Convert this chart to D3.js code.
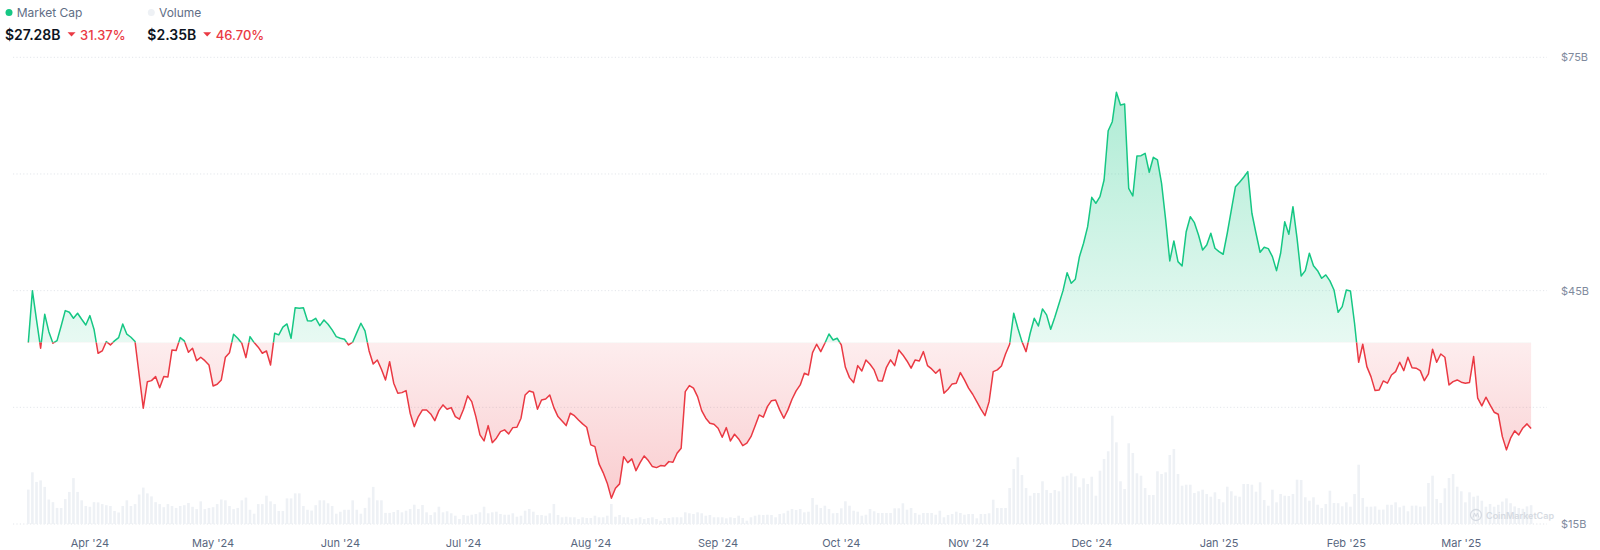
<!DOCTYPE html>
<html>
<head>
<meta charset="utf-8">
<script src="https://cdn.jsdelivr.net/npm/d3@7/dist/d3.min.js"></script>
<style>
  html, body { margin: 0; padding: 0; background: #ffffff; }
  svg { display: block; font-family: Inter, "Noto Sans", sans-serif; }
</style>
</head>
<body>
<svg id="chart" width="1600" height="550"></svg>
<script>
// ---- data (daily, starting 2024-03-17) ----
const startDay = "2024-03-17";
// market cap, billions USD
const marketCap = [
38.32,45.00,41.23,37.60,41.97,39.73,38.24,38.57,40.46,42.43,42.22,41.45,42.10,41.32,40.59,41.79,40.04,36.95,37.25,38.45,
38.02,38.54,38.96,40.72,39.40,39.01,38.45,34.16,29.89,33.30,33.43,33.95,32.53,33.95,33.90,37.38,37.30,38.96,38.54,37.08,
37.60,36.00,36.44,36.00,35.45,32.75,32.97,33.52,36.44,37.03,39.40,38.88,38.24,36.39,39.09,38.32,37.73,36.95,37.25,35.45,
39.52,39.31,40.30,40.72,38.88,42.81,42.74,42.81,41.14,41.11,41.45,40.50,41.23,40.68,39.95,39.09,38.88,38.75,38.02,38.37,
39.60,40.81,39.82,37.25,35.58,36.09,34.90,33.52,35.87,33.10,31.81,31.89,32.15,29.24,27.52,28.81,29.67,29.65,29.15,28.29,
29.58,30.31,29.76,29.96,28.81,28.47,29.76,31.47,30.73,28.81,26.45,25.68,27.65,25.46,26.03,26.88,27.10,26.58,27.39,27.44,
28.60,31.59,32.11,31.94,29.76,30.95,31.08,31.59,29.96,28.81,28.25,27.65,29.24,28.93,28.38,27.87,27.44,25.17,24.95,22.73,
21.61,20.25,18.32,19.60,20.16,23.66,22.89,23.37,21.86,22.89,23.75,23.15,22.38,22.25,22.51,22.47,23.02,22.94,24.10,24.74,
32.02,32.79,32.46,31.38,29.58,28.60,27.96,27.83,27.31,26.16,27.39,25.68,26.54,25.94,25.08,25.39,26.23,27.61,29.02,28.73,
30.09,30.86,30.95,29.67,28.60,29.67,31.04,32.11,32.88,34.38,34.16,37.03,38.11,37.16,38.24,39.43,38.66,38.88,38.02,35.15,
33.82,33.18,35.36,34.68,36.09,35.54,34.81,33.43,33.39,35.15,36.10,35.36,37.38,36.74,35.96,35.03,36.09,35.96,37.16,35.36,
34.94,34.38,34.90,31.81,32.33,33.01,33.10,34.46,33.52,32.46,31.68,30.73,29.76,28.93,30.73,34.59,34.81,35.32,36.86,38.11,
42.10,40.17,38.45,37.16,39.52,41.45,40.46,42.65,41.88,40.04,41.58,43.29,45.00,47.31,45.95,46.47,49.37,51.09,53.23,57.00,
56.23,57.08,59.23,65.56,66.72,70.50,68.87,69.00,58.16,57.17,62.31,62.35,62.66,60.22,62.15,61.80,58.80,54.09,48.82,51.39,
48.73,48.17,52.58,54.51,53.74,52.16,50.23,50.87,52.38,50.45,50.01,49.68,52.38,55.37,58.37,58.93,59.58,60.30,54.95,52.38,
49.94,50.58,50.40,49.37,47.57,49.81,53.87,52.25,55.80,51.73,46.89,47.57,49.81,48.21,47.57,46.59,47.02,46.25,45.09,42.22,
42.94,45.09,44.96,40.81,35.80,38.11,35.23,33.95,32.15,32.24,33.39,33.10,34.16,34.59,35.80,34.72,36.44,35.10,35.03,34.72,
33.43,34.29,37.47,35.80,36.86,36.44,32.88,33.30,33.52,33.23,33.10,33.20,36.52,31.17,30.18,31.30,30.31,29.37,29.11,26.23,
24.53,26.03,26.97,26.45,27.35,27.87,27.29
];
// volume, billions USD
const volume = [
4.30,6.46,5.26,5.45,4.64,3.06,2.73,2.01,2.00,3.11,4.01,5.74,4.01,2.96,2.25,2.15,2.73,2.70,2.49,2.35,
2.25,1.63,1.44,2.25,2.96,2.25,2.49,3.69,4.55,3.83,3.45,2.73,2.49,2.10,2.49,2.25,2.01,2.25,2.35,2.63,
2.15,1.86,2.83,1.86,2.01,2.10,2.49,3.06,2.96,2.25,1.86,2.01,2.96,3.30,1.78,1.29,2.49,2.49,3.54,2.83,
2.49,1.63,1.63,3.20,3.20,3.83,3.83,2.25,1.78,1.68,2.35,2.96,2.96,2.59,2.25,1.29,1.53,1.78,1.78,2.96,
1.78,1.29,2.01,3.30,4.64,2.96,2.96,1.39,1.39,1.50,1.75,1.46,1.66,1.88,2.41,1.88,2.38,1.46,1.13,1.46,
2.16,1.46,1.59,1.34,1.04,0.63,1.13,1.04,1.16,1.25,1.46,2.16,1.34,1.46,1.54,1.25,1.16,1.16,1.34,0.91,
1.04,1.66,1.88,1.54,1.13,1.13,1.04,1.34,2.50,1.13,0.84,0.91,0.84,0.84,0.63,0.84,0.75,0.75,1.04,0.84,
0.84,1.04,2.50,0.91,1.13,0.84,0.84,0.63,0.71,0.84,0.63,0.75,0.84,0.63,0.41,0.75,0.75,0.84,0.84,0.84,
1.46,1.34,1.25,1.46,1.34,1.04,1.13,0.84,0.84,0.84,0.71,0.84,0.75,1.04,0.75,0.41,0.84,1.04,1.16,1.13,
1.16,1.13,0.84,1.25,1.34,1.66,1.88,1.75,1.88,1.46,1.54,3.25,2.41,2.00,2.29,1.88,1.34,1.38,1.96,2.84,
2.29,1.66,1.54,1.04,1.16,1.88,1.59,1.38,1.38,1.38,1.38,1.96,1.96,2.59,1.79,2.00,1.38,1.16,1.38,1.38,
1.38,1.16,1.66,0.84,1.13,1.25,1.54,1.38,1.16,1.25,1.25,0.71,1.25,1.25,1.34,3.04,2.00,2.00,2.00,4.50,
6.88,8.34,6.13,4.50,3.54,3.88,3.88,5.34,4.25,3.88,4.25,4.09,5.91,6.04,6.34,5.96,4.59,5.71,5.00,5.91,
3.54,6.66,8.13,9.09,13.54,10.21,5.34,4.38,10.09,8.88,6.34,6.04,4.50,3.63,3.63,6.59,6.25,6.46,8.63,9.38,
6.25,4.79,4.91,4.91,3.88,4.09,4.29,3.75,3.41,3.96,3.13,2.71,4.66,4.09,3.54,3.41,5.00,5.00,4.91,4.04,
5.21,3.00,2.29,4.29,2.71,3.75,3.54,3.50,3.75,5.54,5.50,3.34,2.91,3.34,2.41,2.00,2.50,4.16,2.63,2.60,
2.21,2.71,2.16,3.75,7.41,3.25,2.16,2.16,2.20,1.79,1.80,2.41,2.40,2.71,2.09,2.29,1.59,2.29,2.30,2.16,
2.20,5.13,6.04,3.13,2.63,4.46,5.75,6.25,4.66,4.09,2.71,3.96,3.41,3.54,2.91,2.16,2.50,2.16,2.40,2.80,
3.20,2.60,2.20,2.00,1.90,2.20,2.35
];
const yTicks = [15, 30, 45, 60, 75];
const yLabelTicks = [75, 45, 15];
const legendItems = [
  { name: "Market Cap", value: "$27.28B", change: "31.37%" },
  { name: "Volume", value: "$2.35B", change: "46.70%" }
];

// ---- setup ----
const GREEN = "#16c784", RED = "#ea3943";
const svg = d3.select("#chart");
const t0 = new Date(startDay + "T00:00:00Z");
const dates = marketCap.map((_, i) => d3.utcDay.offset(t0, i));
const rows = dates.map((d, i) => ({ date: d, cap: marketCap[i], vol: volume[i] }));

const x = d3.scaleUtc()
  .domain([dates[0], dates[dates.length - 1]])
  .range([28.3, 1531.1]);
const y = d3.scaleLinear().domain([15, 75]).range([524, 57.3]);
const yv = d3.scaleLinear().domain([0, 15]).range([524, 404]);
const yBase = y(marketCap[0]);

// gradients and clips
const defs = svg.append("defs");
const gG = defs.append("linearGradient").attr("id", "gGreen")
  .attr("gradientUnits", "userSpaceOnUse").attr("x1", 0).attr("x2", 0)
  .attr("y1", y(75)).attr("y2", yBase);
gG.append("stop").attr("offset", 0).attr("stop-color", GREEN).attr("stop-opacity", 0.38);
gG.append("stop").attr("offset", 1).attr("stop-color", GREEN).attr("stop-opacity", 0.1);
const gR = defs.append("linearGradient").attr("id", "gRed")
  .attr("gradientUnits", "userSpaceOnUse").attr("x1", 0).attr("x2", 0)
  .attr("y1", yBase).attr("y2", y(15));
gR.append("stop").attr("offset", 0).attr("stop-color", RED).attr("stop-opacity", 0.09);
gR.append("stop").attr("offset", 1).attr("stop-color", RED).attr("stop-opacity", 0.28);
defs.append("clipPath").attr("id", "clipAbove").append("rect")
  .attr("x", 0).attr("y", 0).attr("width", 1600).attr("height", yBase);
defs.append("clipPath").attr("id", "clipBelow").append("rect")
  .attr("x", 0).attr("y", yBase).attr("width", 1600).attr("height", 550 - yBase);

// gridlines
svg.append("g").selectAll("line").data(yTicks).join("line")
  .attr("x1", 13).attr("x2", 1547)
  .attr("y1", d => y(d)).attr("y2", d => y(d))
  .attr("stroke", "#e3e6eb").attr("stroke-width", 1)
  .attr("stroke-dasharray", "1.2 2.2");

// volume bars
svg.append("g").selectAll("rect").data(rows).join("rect")
  .attr("x", d => x(d.date) - 1.3)
  .attr("width", 2.6)
  .attr("y", d => yv(d.vol))
  .attr("height", d => yv(0) - yv(d.vol))
  .attr("fill", "#eef1f5");

// areas
const area = d3.area().x(d => x(d.date)).y0(yBase).y1(d => y(d.cap));
svg.append("path").datum(rows).attr("d", area)
  .attr("fill", "url(#gGreen)").attr("clip-path", "url(#clipAbove)");
svg.append("path").datum(rows).attr("d", area)
  .attr("fill", "url(#gRed)").attr("clip-path", "url(#clipBelow)");

// lines
const line = d3.line().x(d => x(d.date)).y(d => y(d.cap));
svg.append("path").datum(rows).attr("d", line)
  .attr("fill", "none").attr("stroke", GREEN).attr("stroke-width", 1.5)
  .attr("stroke-linejoin", "round").attr("clip-path", "url(#clipAbove)");
svg.append("path").datum(rows).attr("d", line)
  .attr("fill", "none").attr("stroke", RED).attr("stroke-width", 1.5)
  .attr("stroke-linejoin", "round").attr("clip-path", "url(#clipBelow)");

// y labels (right)
svg.append("g").selectAll("text").data(yLabelTicks).join("text")
  .attr("x", 1561).attr("y", d => y(d)).attr("dy", "0.35em")
  .attr("font-size", 11).attr("fill", "#808a9d")
  .text(d => "$" + d + "B");

// x labels
const months = d3.utcMonth.range(new Date("2024-04-01T00:00:00Z"), new Date("2025-03-02T00:00:00Z"));
const fmt = d3.utcFormat("%b '%y");
svg.append("g").selectAll("text").data(months).join("text")
  .attr("x", d => x(d)).attr("y", 547)
  .attr("text-anchor", "middle")
  .attr("font-size", 11).attr("fill", "#58667e")
  .text(d => fmt(d));

// watermark
const wm = svg.append("g").attr("opacity", 0.9);
wm.append("circle").attr("cx", 1476).attr("cy", 515).attr("r", 5.5)
  .attr("fill", "none").attr("stroke", "#d3d8e0").attr("stroke-width", 1.3);
wm.append("path").attr("d", "M1473 517.5 L1474.5 513 L1476 516.5 L1477.5 513 L1479 517.5")
  .attr("fill", "none").attr("stroke", "#d3d8e0").attr("stroke-width", 1);
wm.append("text").attr("x", 1486).attr("y", 518.5)
  .attr("font-size", 9).attr("font-weight", 600).attr("fill", "#d3d8e0")
  .text("CoinMarketCap");

// header legend
const hx = [5, 147.3];
const lg = svg.append("g");
legendItems.forEach((it, i) => {
  const g = lg.append("g").attr("transform", `translate(${hx[i]},0)`);
  g.append("circle").attr("cx", 4).attr("cy", 12.5).attr("r", 3.5)
    .attr("fill", i === 0 ? GREEN : "#eef1f5");
  g.append("text").attr("x", 11.7).attr("y", 16.6)
    .attr("font-size", 12).attr("fill", "#616e85").text(it.name);
  const vt = g.append("text").attr("x", 0).attr("y", 39.5)
    .attr("font-size", 14).attr("font-weight", 600).attr("fill", "#0d1421").text(it.value);
  const w = vt.node().getComputedTextLength();
  const tx = w + 7;
  g.append("path").attr("d", `M${tx} 32.3 L${tx + 8} 32.3 L${tx + 4} 36.5 Z`).attr("fill", RED);
  g.append("text").attr("x", tx + 12.5).attr("y", 39.5)
    .attr("font-size", 13).attr("font-weight", 500).attr("fill", RED).text(it.change);
});
</script>
</body>
</html>
